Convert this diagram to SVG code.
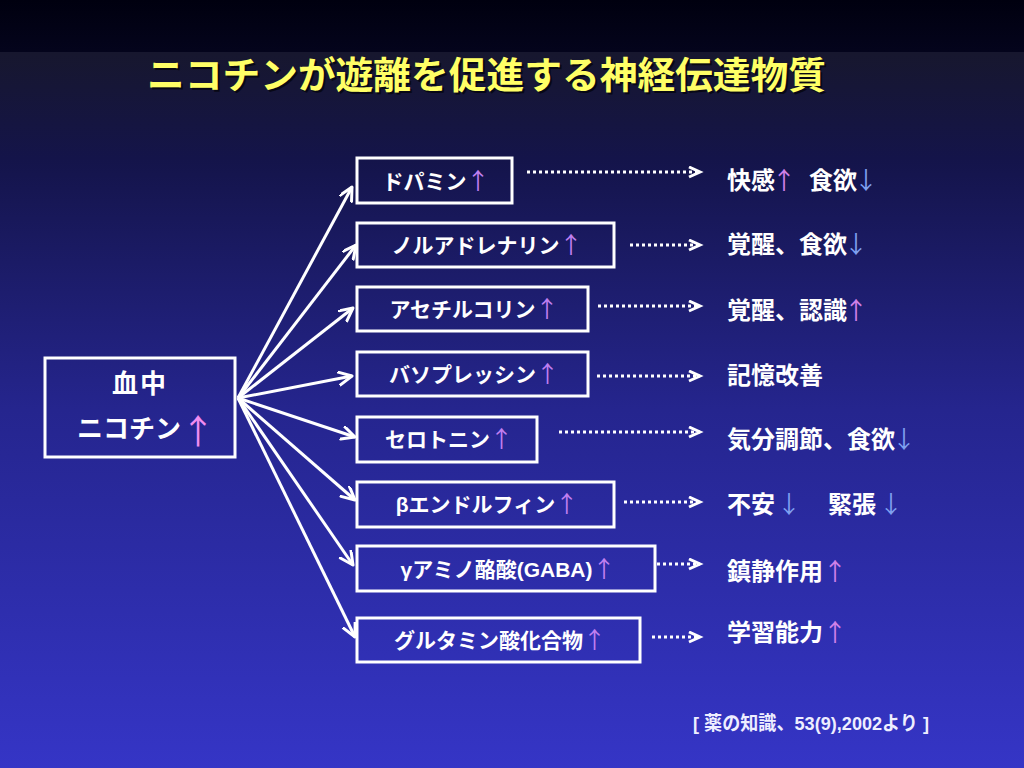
<svg xmlns="http://www.w3.org/2000/svg" width="1024" height="768" viewBox="0 0 1024 768">
<defs>
<linearGradient id="bgTop" x1="0" y1="0" x2="0" y2="1">
<stop offset="0" stop-color="#00000f"/>
<stop offset="1" stop-color="#04041c"/>
</linearGradient>
<linearGradient id="bgMain" x1="0" y1="0" x2="0" y2="1">
<stop offset="0" stop-color="#17172e"/>
<stop offset="0.15" stop-color="#14144a"/>
<stop offset="0.5" stop-color="#25258e"/>
<stop offset="1" stop-color="#3535c6"/>
</linearGradient>
<marker id="ah" markerUnits="userSpaceOnUse" markerWidth="20" markerHeight="20" refX="14" refY="7" orient="auto" viewBox="0 0 20 20">
<path d="M1,0.5 L14,7 L1,13.5" fill="none" stroke="#ffffff" stroke-width="3" stroke-linecap="round" stroke-linejoin="round"/>
</marker>
<marker id="dh" markerUnits="userSpaceOnUse" markerWidth="16" markerHeight="16" refX="12" refY="6" orient="auto" viewBox="0 0 16 16">
<path d="M1,1 L12,6 L1,11" fill="none" stroke="#ffffff" stroke-width="3" stroke-linejoin="miter"/>
</marker>
</defs>
<style>
.t{font-family:"Liberation Sans","Noto Sans CJK JP",sans-serif;font-weight:bold;fill:#ffffff}
.box{fill:none;stroke:#ffffff;stroke-width:3}
.bt{font-size:21px;text-anchor:middle}
.rt{font-size:24px}
.ar{font-family:"Noto Sans CJK JP",sans-serif;font-weight:normal}
.up{fill:#c07ff0}
.up2{fill:#d080e8}
.dn{fill:#7fa0f0}
.conn{stroke:#ffffff;stroke-width:3;fill:none;marker-end:url(#ah)}
.dot{stroke:#ffffff;stroke-width:3;fill:none;stroke-dasharray:3 3;marker-end:url(#dh)}
</style>
<rect x="0" y="0" width="1024" height="52" fill="url(#bgTop)"/>
<rect x="0" y="52" width="1024" height="716" fill="url(#bgMain)"/>

<g id="title">
<text class="t" x="149" y="91" font-size="37" textLength="679" lengthAdjust="spacingAndGlyphs" style="fill:#000000;opacity:0.6">ニコチンが遊離を促進する神経伝達物質</text>
<text class="t" x="147" y="89" font-size="37" textLength="679" lengthAdjust="spacingAndGlyphs" style="fill:#ffff66">ニコチンが遊離を促進する神経伝達物質</text>
</g>

<g id="connectors">
<line class="conn" x1="238" y1="398" x2="352" y2="187"/>
<line class="conn" x1="238" y1="398" x2="356" y2="245"/>
<line class="conn" x1="238" y1="398" x2="353" y2="308"/>
<line class="conn" x1="238" y1="398" x2="352" y2="376"/>
<line class="conn" x1="238" y1="398" x2="355" y2="437"/>
<line class="conn" x1="238" y1="398" x2="355" y2="500"/>
<line class="conn" x1="238" y1="398" x2="353" y2="565"/>
<line class="conn" x1="238" y1="398" x2="355" y2="637"/>
<line class="dot" x1="527" y1="172" x2="700" y2="172"/>
<line class="dot" x1="630" y1="245" x2="700" y2="245"/>
<line class="dot" x1="598" y1="306" x2="700" y2="306"/>
<line class="dot" x1="597" y1="376" x2="700" y2="376"/>
<line class="dot" x1="559" y1="432" x2="700" y2="432"/>
<line class="dot" x1="624" y1="502" x2="700" y2="502"/>
<line class="dot" x1="657" y1="564" x2="700" y2="564"/>
<line class="dot" x1="652" y1="637" x2="700" y2="637"/>
</g>

<g id="nicotine">
<rect class="box" x="45" y="358" width="190" height="99"/>
<text class="t" x="140" y="393" font-size="26" text-anchor="middle" letter-spacing="2">血中</text>
<text class="t" x="77" y="438" font-size="26">ニコチン<tspan class="ar" x="181" y="444" font-size="34" style="fill:#f08cf0">↑</tspan></text>
</g>

<g id="n1"><rect class="box" x="357" y="158" width="155" height="45"/>
<text class="t bt" x="436" y="189">ドパミン<tspan class="ar up" font-size="23">↑</tspan></text></g>
<g id="n2"><rect class="box" x="357" y="223" width="257" height="44"/>
<text class="t bt" x="487" y="253">ノルアドレナリン<tspan class="ar up" font-size="23">↑</tspan></text></g>
<g id="n3"><rect class="box" x="357" y="287" width="231" height="44"/>
<text class="t bt" x="474" y="317">アセチルコリン<tspan class="ar up" font-size="23">↑</tspan></text></g>
<g id="n4"><rect class="box" x="357" y="352" width="231" height="44"/>
<text class="t bt" x="474" y="382">バソプレッシン<tspan class="ar up" font-size="23">↑</tspan></text></g>
<g id="n5"><rect class="box" x="357" y="417" width="180" height="45"/>
<text class="t bt" x="449" y="447">セロトニン<tspan class="ar up" font-size="23">↑</tspan></text></g>
<g id="n6"><rect class="box" x="357" y="482" width="257" height="45"/>
<text class="t bt" x="487" y="512">βエンドルフィン<tspan class="ar up" font-size="23">↑</tspan></text></g>
<g id="n7"><rect class="box" x="357" y="546" width="298" height="45"/>
<text class="t bt" x="508" y="577">γアミノ酪酸(GABA)<tspan class="ar up" font-size="23">↑</tspan></text></g>
<g id="n8"><rect class="box" x="357" y="618" width="283" height="44"/>
<text class="t bt" x="500" y="648">グルタミン酸化合物<tspan class="ar up" font-size="23">↑</tspan></text></g>

<g id="effects">
<text class="t rt" x="727" y="189">快感<tspan x="772" class="ar up2">↑</tspan><tspan x="809">食欲</tspan><tspan x="854" class="ar dn">↓</tspan></text>
<text class="t rt" x="727" y="253">覚醒、食欲<tspan x="844" class="ar dn">↓</tspan></text>
<text class="t rt" x="727" y="319">覚醒、認識<tspan x="844" class="ar up2">↑</tspan></text>
<text class="t rt" x="727" y="384">記憶改善</text>
<text class="t rt" x="727" y="448">気分調節、食欲<tspan x="892" class="ar dn">↓</tspan></text>
<text class="t rt" x="727" y="513">不安<tspan x="777" class="ar dn" font-weight="bold">↓</tspan><tspan x="828">緊張</tspan><tspan x="879" class="ar dn" font-weight="bold">↓</tspan></text>
<text class="t rt" x="727" y="580">鎮静作用<tspan x="823" class="ar up2">↑</tspan></text>
<text class="t rt" x="727" y="641">学習能力<tspan x="823" class="ar up2">↑</tspan></text>
</g>

<g id="citation">
<text class="t" x="693" y="730" font-size="19" textLength="236" lengthAdjust="spacingAndGlyphs" style="fill:#eeeeff">[ 薬の知識、53(9),2002より ]</text>
</g>
</svg>
